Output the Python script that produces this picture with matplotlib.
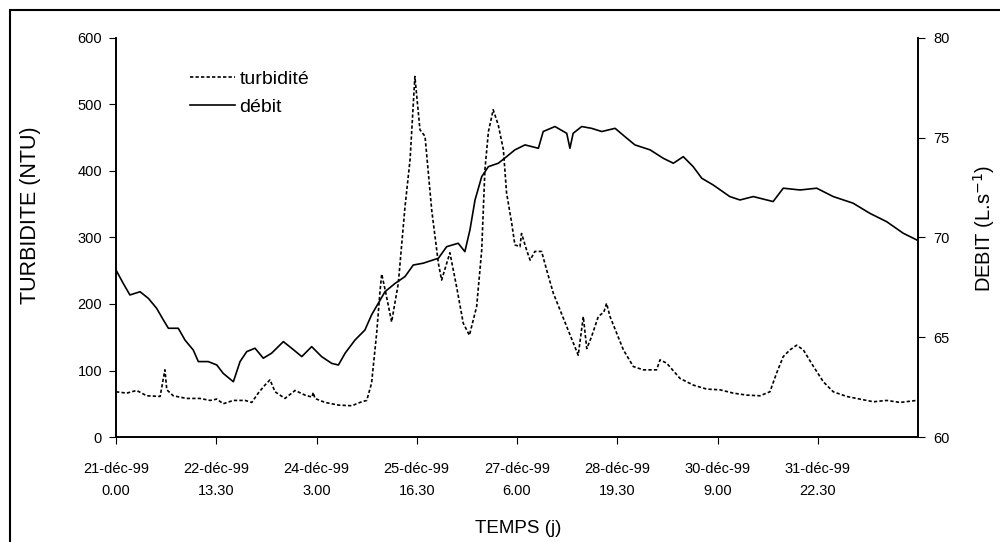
import matplotlib
matplotlib.use("Agg")
import matplotlib.pyplot as plt
from matplotlib.patches import Rectangle

plt.rcParams['font.family'] = ['Liberation Sans', 'DejaVu Sans']

# temps en heures depuis le 21-déc-99 0.00
turb_h = [0, 4.0, 7.7, 11.5, 16.5, 18.3, 19.0, 21.4, 26.4, 31.4, 35.2, 37.7, 40.1, 43.9,
          48.3, 50.8, 53.2, 55.7, 57.6, 59.5, 63.2, 67.0, 70.7, 73.3, 73.8, 74.4, 78.2,
          83.2, 88.2, 91.9, 93.8, 95.6, 97.5, 98.8, 99.4, 101.0, 103.1, 105.6, 108.1,
          110.0, 111.8, 113.7, 115.6, 118.1, 120.6, 121.8, 124.9, 127.4, 129.9, 132.2,
          134.9, 136.8, 138.0, 139.3, 141.1, 143.0, 144.9, 146.1, 148.0, 149.2, 151.1,
          151.7, 153.6, 154.9, 156.7, 159.2, 161.1, 163.6, 166.1, 168.6, 171.1, 172.9,
          174.8, 176.1, 177.9, 180.4, 182.5, 183.5, 184.8, 187.3, 189.8, 193.5, 197.2,
          202.2, 203.5, 206.0, 211.0, 216.0, 221.0, 225.9, 230.9, 235.9, 240.9, 244.6,
          247.1, 249.6, 252.1, 254.6, 257.1, 260.9, 264.6, 268.3, 273.3, 278.3, 283.3,
          288.3, 293.3, 299.5]
turbidite = [68, 66, 70, 62, 61, 101, 71, 62, 58, 58, 55, 57, 50, 55,
             55, 52, 66, 78, 86, 68, 58, 70, 63, 60, 67, 58, 52,
             48, 47, 53, 55, 81, 156, 221, 245, 215, 173, 231, 346,
             417, 542, 462, 452, 341, 261, 236, 277, 226, 171, 153,
             196, 281, 402, 459, 492, 469, 432, 367, 322, 289, 286,
             306, 281, 266, 279, 279, 251, 216, 191, 166, 141, 123,
             181, 133, 151, 181, 188, 201, 181, 156, 131, 106, 101,
             101, 116, 111, 88, 78, 72, 71, 66, 63, 62, 68,
             96, 121, 131, 138, 131, 106, 83, 68, 61, 57, 53,
             55, 52, 55]

debit_h = [0, 2.7, 5.2, 9.0, 12.1, 15.2, 17.7, 19.6, 23.3, 25.8, 28.9, 30.8, 34.5, 37.7,
           40.1, 43.9, 46.4, 48.9, 52.0, 55.1, 58.2, 62.6, 65.7, 69.5, 73.2, 76.9, 80.7,
           83.2, 85.7, 89.4, 93.1, 95.6, 98.1, 100.6, 104.4, 108.1, 111.2, 114.9, 120.6,
           123.7, 128.0, 130.5, 132.4, 134.3, 136.8, 139.3, 143.0, 146.1, 149.2, 153.0,
           158.0, 159.8, 164.2, 168.6, 169.8, 171.0, 174.2, 177.9, 181.7, 186.7, 190.4,
           194.1, 199.8, 204.7, 208.5, 212.2, 215.9, 219.1, 223.4, 229.6, 233.4, 238.4,
           245.8, 249.6, 255.9, 262.1, 268.3, 275.7, 282.0, 288.3, 294.5, 299.5]
debit = [68.37, 67.70, 67.12, 67.28, 66.95, 66.45, 65.87, 65.45, 65.45, 64.86, 64.36, 63.78,
         63.78, 63.61, 63.19, 62.77, 63.78, 64.28, 64.45, 63.95, 64.20, 64.78, 64.45, 64.03,
         64.53, 64.03, 63.69, 63.61, 64.20, 64.86, 65.36, 66.12, 66.70, 67.28, 67.70, 68.04,
         68.62, 68.71, 68.96, 69.54, 69.71, 69.29, 70.38, 71.88, 73.05, 73.55, 73.72, 74.05,
         74.39, 74.64, 74.47, 75.31, 75.56, 75.22, 74.47, 75.22, 75.56, 75.47, 75.31, 75.47,
         75.05, 74.64, 74.39, 73.97, 73.72, 74.05, 73.55, 72.97, 72.63, 72.05, 71.88, 72.05,
         71.80, 72.47, 72.38, 72.47, 72.05, 71.72, 71.21, 70.79, 70.21, 69.88]

tick_pos = [0, 37.5, 75, 112.5, 150, 187.5, 225, 262.5]
tick_lab = ["21-déc-99\n0.00", "22-déc-99\n13.30", "24-déc-99\n3.00", "25-déc-99\n16.30",
            "27-déc-99\n6.00", "28-déc-99\n19.30", "30-déc-99\n9.00", "31-déc-99\n22.30"]

fig = plt.figure(figsize=(10, 5.42), dpi=100)
ax = fig.add_axes([0.116, 0.1937, 0.802, 0.7363])
ax2 = ax.twinx()

l1, = ax.plot(turb_h, turbidite, color='black', lw=1.2, linestyle=(0, (2, 1.3)), label='turbidité')
l2, = ax2.plot(debit_h, debit, color='black', lw=1.2, label='débit')

ax.set_xlim(0, 300)
ax.set_ylim(0, 600)
ax2.set_ylim(60, 80)
ax.set_yticks(range(0, 601, 100))
ax2.set_yticks(range(60, 81, 5))
ax.set_xticks(tick_pos)
ax.set_xticklabels(tick_lab, linespacing=1.7)

for a in (ax, ax2):
    a.spines['top'].set_visible(False)
    for s in a.spines.values():
        s.set_linewidth(1.2)
ax.tick_params(axis='x', direction='out', length=5, pad=13, labelsize=10.5)
ax.tick_params(axis='y', direction='out', length=5, pad=5, labelsize=10.5)
ax2.tick_params(axis='y', direction='out', length=5, pad=6, labelsize=10.5)

ax.set_ylabel('TURBIDITE (NTU)', fontsize=15.5)
ax.yaxis.set_label_coords(-0.093, 0.556)
ax2.set_ylabel('DEBIT (L.s$^{-1}$)', fontsize=14.5)
ax2.yaxis.set_label_coords(1.066, 0.524)
ax.set_xlabel('TEMPS (j)', fontsize=13.5)
ax.xaxis.set_label_coords(0.501, -0.208)

ax.legend(handles=[l1, l2], loc='upper left', bbox_to_anchor=(0.092, 0.918), frameon=False,
          fontsize=14, handlelength=2.3, handletextpad=0.25, borderpad=0, borderaxespad=0,
          labelspacing=0.5)

fig.patches.append(Rectangle((0.01, -0.1), 1.1, 0.1 + (542 - 10) / 542, transform=fig.transFigure,
                             fill=False, edgecolor='black', lw=1.5))

fig.savefig('out.png', dpi=100)
